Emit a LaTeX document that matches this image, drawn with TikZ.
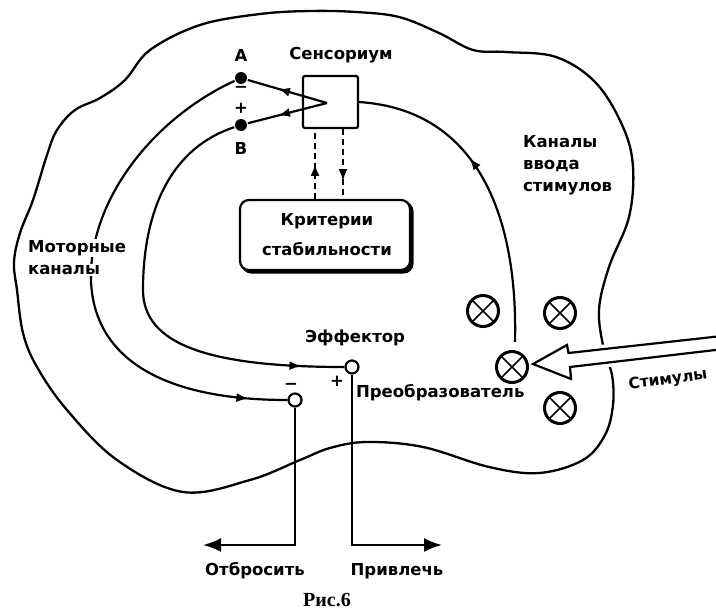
\documentclass[tikz,border=0pt]{standalone}
\usepackage{fontspec}
\setmainfont{DejaVu Sans}
\newfontfamily\capfont{Liberation Serif}
\usetikzlibrary{arrows.meta,decorations.markings}
\tikzset{
  midarrow/.style={postaction={decorate},decoration={markings,
    mark=at position #1 with {\arrow{Latex[length=12pt,width=9pt]}}}},
  lbl/.style={font=\fontsize{16.5}{20}\selectfont\bfseries,inner sep=1pt},
  dotnode/.style={circle,fill=black,minimum size=12pt,inner sep=0pt},
  term/.style={circle,draw,fill=white,minimum size=13pt,inner sep=0pt},
  transd/.style={circle,draw,line width=3pt,minimum size=31pt,inner sep=0pt,
    path picture={\draw[line width=1.5pt]
      (path picture bounding box.north west)--(path picture bounding box.south east)
      (path picture bounding box.north east)--(path picture bounding box.south west);}},
  dashln/.style={dash pattern=on 6pt off 4pt},
  bigtip/.style={-{Latex[length=18pt,width=14pt]}}
}
\begin{document}
\begin{tikzpicture}[x=1pt,y=-1pt,line width=2.2pt]
\useasboundingbox (0,0) rectangle (716,613);

% outline of the organism
\draw[line width=2.3pt] plot[smooth cycle,tension=0.6] coordinates {
 (356,12) (399,17) (439,33) (473,50) (506,52) (556,57) (596,83) (623,127)
 (633,167) (629,217) (609,267) (599,310) (604,350) (612,375) (613,405)
 (605,435) (583,460) (539,473) (489,467) (423,447) (367,442) (330,448)
 (300,460) (250,480) (183,492) (117,460) (67,410) (37,367) (23,333)
 (17,290) (14,262) (20,233) (33,200) (47,155) (57,130) (75,110) (100,98)
 (125,80) (150,50) (200,25) (260,14) (310,11)};

% stimulus arrow (hollow)
\coordinate (stT) at (533,364);
\path[draw=white,line width=9pt,fill=white]
  (stT) -- (567,345) -- (568.5,353) -- (722,336) -- (724,349)
  -- (570,367) -- (571,379) -- cycle;
\draw[fill=white,line width=2.2pt,line join=miter]
  (722,336) -- (568.5,353) -- (567,345) -- (stT) -- (571,379)
  -- (570,367) -- (724,349);

% transducers
\node[transd] (t1) at (483,311) {};
\node[transd] (t2) at (560,313) {};
\node[transd] (t3) at (512,367) {};
\node[transd] (t4) at (560,408) {};

% sensorium
\node[draw,minimum width=55pt,minimum height=52pt,inner sep=0pt,rounded corners=2pt] (sens) at (330.5,102) {};
\node[lbl] at (341,55) {Сенсориум};
\coordinate (apex) at (327,103);

% A and B
\node[dotnode] (A) at (241,78) {};
\node[dotnode] (B) at (241,125) {};
\node[lbl] at (241,55) {A};
\node[lbl] at (241,148) {B};
\node[lbl] at (241,89) {−};
\node[lbl] at (241,108) {+};
\draw[midarrow=0.62] (apex) -- (A);
\draw[midarrow=0.62] (apex) -- (B);

% criteria box
\draw[rounded corners=9pt,fill=black] (242.5,202.5) rectangle (412.5,272.5);
\node[draw,fill=white,rounded corners=9pt,minimum width=170pt,minimum height=70pt,inner sep=0pt] (crit) at (325,235) {};
\node[lbl] at (327,221) {Критерии};
\node[lbl] at (327,249) {стабильности};

% dashed links
\draw[dashln,midarrow=35pt] ([xshift=-15.5pt]sens.south |- crit.north) -- ([xshift=-15.5pt]sens.south);
\draw[dashln,midarrow=52pt] ([xshift=12.5pt]sens.south) -- ([xshift=12.5pt]sens.south |- crit.north);

% stimulus input channel
\coordinate (chin) at (515,342);
\draw[midarrow=-128pt] (chin) .. controls (518,220) and (480,110) .. (sens.east);
\node[lbl,anchor=west] at (521,142) {Каналы};
\node[lbl,anchor=west] at (521,166) {ввода};
\node[lbl,anchor=west] at (521,189) {стимулов};

% effector terminals
\node[term] (mneg) at (295,400) {};
\node[term] (mpos) at (352,367) {};
\node[lbl] at (291,386) {−};
\node[lbl] at (337,381) {+};
\node[lbl] at (355,338) {Эффектор};
\node[lbl,anchor=west] at (354,393) {Преобразователь};

% motor channels
\draw[midarrow=-39pt] (A) .. controls (160,115) and (95,190) .. (91,270)
   .. controls (88,350) and (150,400) .. (mneg.west);
\draw[midarrow=-43pt] (B) .. controls (165,150) and (143,220) .. (143,290)
   .. controls (143,345) and (210,367) .. (mpos.west);
\node[lbl,anchor=west,fill=white] at (26,248) {Моторные};
\node[lbl,anchor=west,fill=white] at (26,270) {каналы};

% outputs
\coordinate (rej) at (203,545);
\coordinate (att) at (442,545);
\draw[bigtip] (mneg.south) |- (rej);
\draw[bigtip] (mpos.south) |- (att);
\node[lbl] at (255,571) {Отбросить};
\node[lbl] at (397,571) {Привлечь};
\node[lbl,rotate=8,inner sep=0pt,font=\fontsize{15.5}{18}\selectfont\bfseries] at (668,380) {Стимулы};

\node[font=\capfont\fontsize{20}{22}\selectfont\bfseries,inner sep=0pt] at (327,600) {Рис.6};
\end{tikzpicture}
\end{document}
